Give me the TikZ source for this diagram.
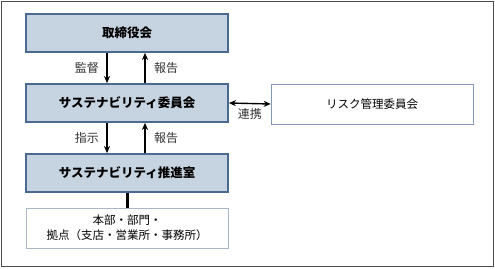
\documentclass[tikz,border=0pt]{standalone}
\usepackage{fontspec}
\newfontfamily\cjk{Noto Sans CJK JP}
\usetikzlibrary{arrows.meta, positioning}

\definecolor{boxfill}{HTML}{C6D3E0}
\definecolor{boxline}{HTML}{4A6A92}
\definecolor{thinline}{HTML}{8297B3}
\definecolor{paleline}{HTML}{A9B6C6}

\begin{document}
\begin{tikzpicture}[x=1pt, y=-1pt,
    orgbox/.style={rectangle, draw=boxline, line width=1.8pt, fill=boxfill,
                   minimum width=202pt, minimum height=38pt,
                   font=\cjk\bfseries\fontsize{12.5}{14}\selectfont},
    subbox/.style={rectangle, draw=thinline, line width=0.6pt, fill=white,
                   minimum width=202pt, minimum height=40pt, align=center,
                   font=\cjk\fontsize{11.5}{15}\selectfont},
    arrow/.style={-{Stealth[length=7pt, width=6pt]}, line width=1.4pt},
    lbl/.style={font=\cjk\fontsize{12}{14}\selectfont, text=black!80},
  ]

  % frame and page size
  \useasboundingbox (0,0) rectangle (495,268);
  \draw[black!70, line width=1pt] (1,1) rectangle (493,266);

  % main column (box centres)
  \node[orgbox] (board) at (127,33)  {取締役会};
  \node[orgbox] (comm)  at (127,103) {サステナビリティ委員会};
  \node[orgbox] (office) at (127,173) {サステナビリティ推進室};
  \node[subbox, draw=paleline] (units) at (127,228)
    {本部・部門・\\拠点（支店・営業所・事務所）};

  % side committee
  \node[subbox] (risk) at (372,104) {リスク管理委員会};

  % board <-> committee
  \draw[arrow] ([xshift=-20pt]board.south) -- ([xshift=-20pt]comm.north)
    node[midway, left=4pt, lbl] {監督};
  \draw[arrow] ([xshift=18pt]comm.north) -- ([xshift=18pt]board.south)
    node[midway, right=5pt, lbl] {報告};

  % committee <-> office
  \draw[arrow] ([xshift=-20pt]comm.south) -- ([xshift=-20pt]office.north)
    node[midway, left=4pt, lbl] {指示};
  \draw[arrow] ([xshift=18pt]office.north) -- ([xshift=18pt]comm.south)
    node[midway, right=5pt, lbl] {報告};

  % office -- units
  \draw[line width=3pt] (office.south) -- (units.north);

  % cooperation
  \draw[{Stealth[length=7pt, width=6pt]}-{Stealth[length=7pt, width=6pt]}, line width=1.4pt]
    (comm.east) -- (risk.west)
    node[midway, below=1pt, lbl] {連携};

\end{tikzpicture}
\end{document}
